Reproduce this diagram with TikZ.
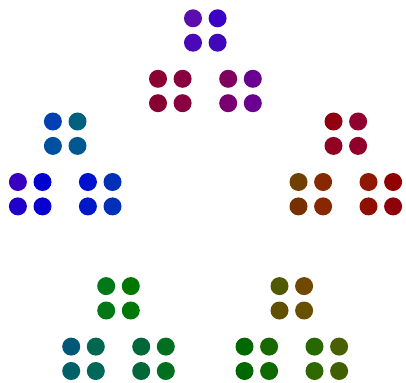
\documentclass[tikz,border=0pt]{standalone}
\newcommand\pdot[3]{\definecolor{dc}{HTML}{#3}\fill[dc] (#1,#2) circle[radius=9];}
\newcommand\mygrp[6]{%
  \pdot{#1-12.3}{#2-12.2}{#3}\pdot{#1+12.3}{#2-12.2}{#4}%
  \pdot{#1-12.3}{#2+12.2}{#5}\pdot{#1+12.3}{#2+12.2}{#6}}
\begin{document}
\begin{tikzpicture}[x=1pt,y=-1pt]
\useasboundingbox (0,0) rectangle (406,382);
% purple cluster
\mygrp{205.3}{30.5}{5C0DAE}{3A00C8}{4A08B8}{4008B8}
\mygrp{170.3}{91.0}{8A0030}{880040}{880030}{880040}
\mygrp{240.5}{91.0}{800060}{6A0090}{780070}{6A0090}
% blue cluster
\mygrp{65.2}{133.7}{0040B0}{006080}{0050A0}{005890}
\mygrp{30.2}{194.2}{3800C0}{0000D0}{2000C8}{0800D0}
\mygrp{100.2}{194.2}{0010D0}{0030B8}{0018C8}{0030B8}
% red cluster
\mygrp{345.8}{133.7}{900010}{900030}{900020}{900028}
\mygrp{310.8}{194.2}{704000}{882800}{783000}{882800}
\mygrp{380.8}{194.2}{901800}{900000}{901000}{900008}
% green cluster
\mygrp{118.5}{298.3}{007818}{007800}{007818}{007808}
\mygrp{83.5}{358.8}{005878}{006850}{006068}{006858}
\mygrp{153.5}{358.8}{006838}{007020}{006838}{007020}
% olive cluster
\mygrp{291.8}{298.3}{505800}{704800}{605000}{685000}
\mygrp{256.8}{358.8}{006800}{186800}{006800}{106800}
\mygrp{326.8}{358.8}{286800}{486000}{306800}{406000}
\end{tikzpicture}
\end{document}
